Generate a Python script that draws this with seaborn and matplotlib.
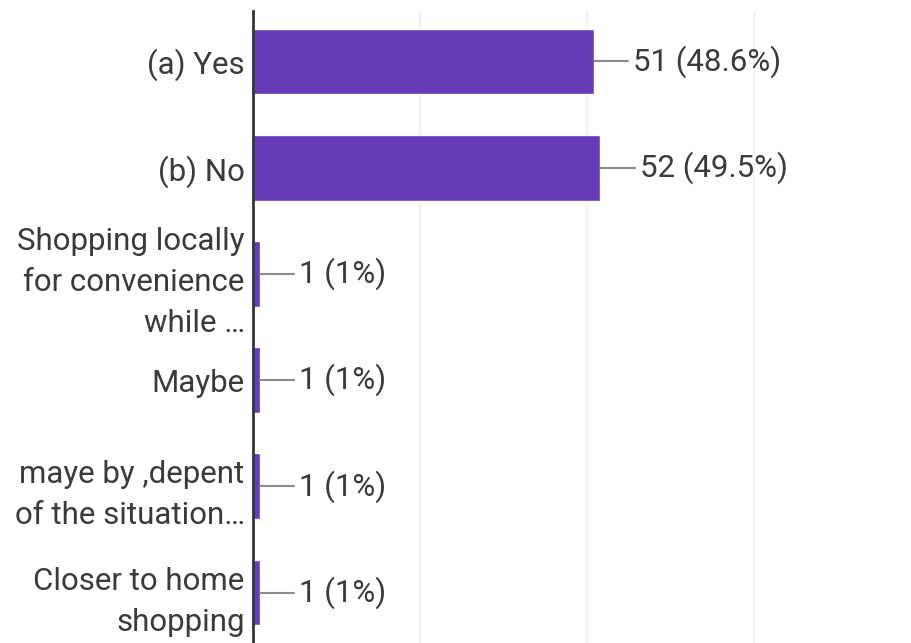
import matplotlib
matplotlib.use("Agg")
import matplotlib.pyplot as plt
import seaborn as sns
import pandas as pd

categories = [
    "(a) Yes",
    "(b) No",
    "Shopping locally\nfor convenience\nwhile …",
    "Maybe",
    "maye by ,depent\nof the situation…",
    "Closer to home\nshopping",
]
counts = [51, 52, 1, 1, 1, 1]
percents = ["48.6%", "49.5%", "1%", "1%", "1%", "1%"]

df = pd.DataFrame({"answer": categories, "count": counts})

sns.set_theme(style="white")
plt.rcParams["font.family"] = ["Roboto", "DejaVu Sans"]

fig = plt.figure(figsize=(9.11, 6.43), dpi=100)
ax = fig.add_axes([253 / 911, 0, (911 - 253) / 911, (643 - 11) / 643])

sns.barplot(data=df, y="answer", x="count", orient="h", color="#673ab7",
            saturation=1, width=0.62, ax=ax)

ax.set_xlim(0, 98.5)
ax.set_ylim(5.475, -0.475)
ax.set_xticks([25, 50, 75])
ax.set_xticklabels([])
ax.grid(axis="x", color="#f0f0f0", linewidth=1.4)
ax.set_axisbelow(True)
for s in ["top", "right", "bottom"]:
    ax.spines[s].set_visible(False)
ax.spines["left"].set_color("#333333")
ax.spines["left"].set_linewidth(2)
ax.spines["left"].set_zorder(5)
ax.set_xlabel("")
ax.set_ylabel("")
ax.tick_params(axis="y", length=0, pad=6, labelsize=22.5, labelcolor="#3a3a3a")
ax.tick_params(axis="x", length=0)
for lbl in ax.get_yticklabels():
    lbl.set_linespacing(1.52)

# value callouts with short leader lines
for i, (c, p) in enumerate(zip(counts, percents)):
    ax.plot([c, c + 5.2], [i, i], color="#8a8a8a", linewidth=1.5, zorder=3)
    ax.text(c + 5.9, i, f"{c} ({p})", va="center", ha="left",
            fontsize=22.5, color="#3a3a3a")

fig.savefig("out.png", dpi=100)
